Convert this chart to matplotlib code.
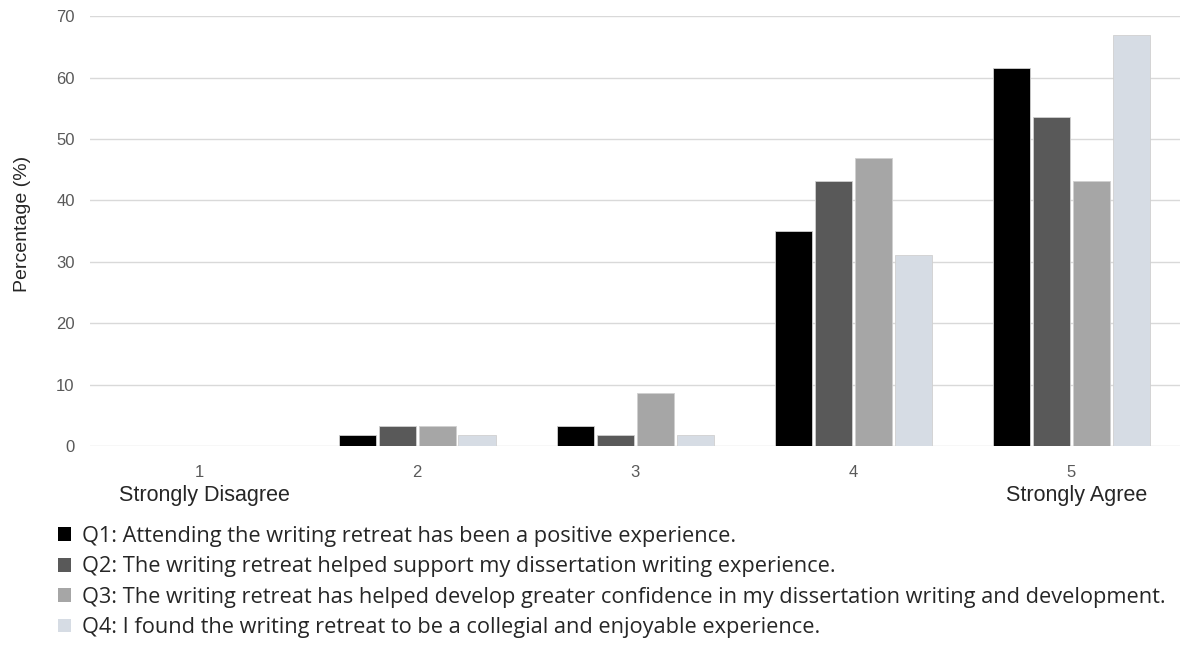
import matplotlib
matplotlib.use("Agg")
import matplotlib.pyplot as plt
import numpy as np
from matplotlib.patches import Patch

categories = ["1", "2", "3", "4", "5"]
series_names = [
    "Q1: Attending the writing retreat has been a positive experience.",
    "Q2: The writing retreat helped support my dissertation writing experience.",
    "Q3: The writing retreat has helped develop greater confidence in my dissertation writing and development.",
    "Q4: I found the writing retreat to be a collegial and enjoyable experience.",
]
q1 = [0, 1.8, 3.2, 35.0, 61.6]
q2 = [0, 3.2, 1.8, 43.1, 53.6]
q3 = [0, 3.2, 8.6, 46.9, 43.1]
q4 = [0, 1.8, 1.8, 31.1, 66.9]
series = [q1, q2, q3, q4]
colors = ["#000000", "#595959", "#a6a6a6", "#d6dce4"]
yticks = [0, 10, 20, 30, 40, 50, 60, 70]

fig = plt.figure(figsize=(11.84, 6.46), dpi=100)
ax = fig.add_axes([0.076, 0.3096, 0.921, 0.6655])

x = np.arange(1, len(categories) + 1)
pitch = 0.183
width = 0.17
for i, (vals, c) in enumerate(zip(series, colors)):
    ax.bar(x + (i - 1.5) * pitch, vals, width=width, color=c,
           edgecolor="#d0d0d0", linewidth=0.6, zorder=3)

ax.set_xlim(0.5, 5.5)
ax.set_ylim(0, 70)
ax.set_yticks(yticks)
ax.set_xticks(x)
ax.set_xticklabels(categories)
ax.grid(axis="y", color="#d9d9d9", linewidth=1, zorder=0)
for s in ax.spines.values():
    s.set_visible(False)
ax.tick_params(axis="both", length=0, colors="#595959", labelsize=12)
ax.tick_params(axis="y", pad=11)
ax.tick_params(axis="x", pad=14)
for lab in ax.get_xticklabels() + ax.get_yticklabels():
    lab.set_family("Liberation Sans")

fig.text(23 / 1184, 1 - 224 / 646, "Percentage (%)", rotation=90, va="center", ha="center",
         fontsize=14, family="Liberation Sans", color="#262626")
fig.text(204 / 1184, 1 - 496 / 646, "Strongly Disagree", ha="center", va="center",
         fontsize=15.5, family="Liberation Sans", color="#262626")
fig.text(1077 / 1184, 1 - 496 / 646, "Strongly Agree", ha="center", va="center",
         fontsize=15.5, family="Liberation Sans", color="#262626")

handles = [Patch(facecolor=c, edgecolor="none") for c in colors]
leg = fig.legend(handles, series_names, loc="upper left",
                 bbox_to_anchor=(58 / 1184, 1 - 526 / 646), frameon=False,
                 prop={"family": "Open Sans", "size": 15.7},
                 handlelength=0.6, handleheight=0.6, handletextpad=0.5,
                 labelspacing=0.43, borderaxespad=0, borderpad=0)
for t in leg.get_texts():
    t.set_color("#262626")

fig.savefig("out.png", dpi=100)
